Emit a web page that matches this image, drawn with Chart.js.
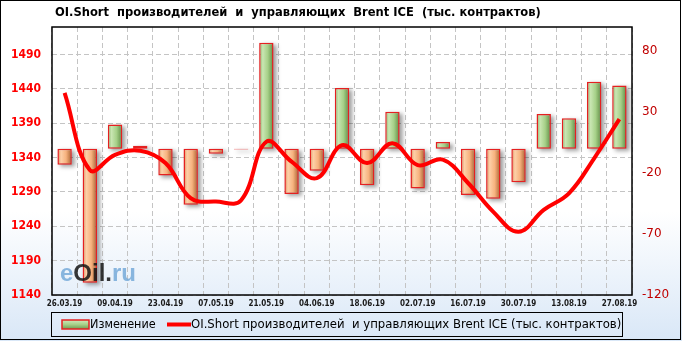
<!DOCTYPE html>
<html>
<head>
<meta charset="utf-8">
<script src="https://cdn.jsdelivr.net/npm/chart.js@4/dist/chart.umd.min.js"></script>
<style>
  html, body { margin: 0; padding: 0; background: #fff; }
</style>
</head>
<body>
<canvas id="grafico" width="682" height="341"></canvas>
<script>
// dados semanais
const datas = ['26.03.19', '02.04.19', '09.04.19', '16.04.19', '23.04.19', '30.04.19', '07.05.19',
  '14.05.19', '21.05.19', '28.05.19', '04.06.19', '11.06.19', '18.06.19', '25.06.19', '02.07.19',
  '09.07.19', '16.07.19', '23.07.19', '30.07.19', '06.08.19', '13.08.19', '20.08.19', '27.08.19'];
const izmenenie = [-13, -110, 20, 2.5, -22, -46, -4, -0.5, 87, -37, -18, 50, -30, 30.5, -32.5,
  5.5, -38, -41, -27.5, 28.5, 25, 55, 52];
const oiShort = [1434, 1322, 1344, 1350, 1332, 1281, 1276, 1278, 1363, 1334, 1310, 1358, 1332,
  1361, 1329, 1337, 1303, 1261, 1232, 1264, 1288, 1339, 1396];
const ticksEsquerda = [1140, 1190, 1240, 1290, 1340, 1390, 1440, 1490];
const ticksDireita = [-120, -70, -20, 30, 80];

const titulo = 'OI.Short  производителей  и  управляющих  Brent ICE  (тыс. контрактов)';
const legendaBarra = 'Изменение';
const legendaLinha = 'OI.Short производителей  и управляющих Brent ICE (тыс. контрактов)';

const fonteCond = "'DejaVu Sans Condensed', 'DejaVu Sans', sans-serif";

// gradiente dos "tijolos"
function corBarra(c) {
  const chart = c.chart;
  const area = chart.chartArea;
  const positivo = c.raw >= 0;
  if (!area || c.type !== 'data') return positivo ? '#a8d08d' : '#f7b98b';
  const x = chart.scales.x.getPixelForValue(c.dataIndex);
  const w = (area.right - area.left) / datas.length * 0.57;
  const g = chart.ctx.createLinearGradient(x - w / 2, 0, x + w / 2, 0);
  if (positivo) {
    g.addColorStop(0, '#86b266');
    g.addColorStop(0.25, '#c9e6b2');
    g.addColorStop(0.6, '#a6d088');
    g.addColorStop(1, '#5d8a43');
  } else {
    g.addColorStop(0, '#d98a55');
    g.addColorStop(0.25, '#fdd0a8');
    g.addColorStop(0.6, '#f7b27e');
    g.addColorStop(1, '#a6602f');
  }
  return g;
}

const pluginFundo = {
  id: 'fundo',
  beforeDraw(chart) {
    const ctx = chart.ctx;
    const g = ctx.createLinearGradient(0, 0, 0, chart.height);
    g.addColorStop(0, '#ffffff');
    g.addColorStop(0.62, '#ffffff');
    g.addColorStop(1, '#d9e7f7');
    ctx.save();
    ctx.fillStyle = g;
    ctx.fillRect(0, 0, chart.width, chart.height);
    ctx.restore();
  },
  beforeDatasetsDraw(chart) {
    // sombra das barras
    const ctx = chart.ctx;
    const meta = chart.getDatasetMeta(1);
    ctx.save();
    ctx.filter = 'blur(2px)';
    ctx.fillStyle = 'rgba(0,0,0,0.38)';
    meta.data.forEach(function(b) {
      const top = Math.min(b.y, b.base);
      const h = Math.abs(b.base - b.y);
      ctx.fillRect(b.x - b.width / 2 + 3, top + 2, b.width, Math.max(h, 1));
    });
    ctx.restore();
  },
  afterDatasetsDraw(chart) {
    const ctx = chart.ctx;
    const a = chart.chartArea;
    // marca d'agua
    ctx.save();
    ctx.font = "bold 24px 'Liberation Sans', sans-serif";
    ctx.textBaseline = 'alphabetic';
    let x = 60;
    const partes = [['e', 'rgba(110,165,215,0.8)'], ['Oil', 'rgba(20,20,20,0.85)'],
      ['.', 'rgba(20,20,20,0.85)'], ['ru', 'rgba(110,165,215,0.8)']];
    partes.forEach(function(p) {
      ctx.fillStyle = p[1];
      ctx.fillText(p[0], x, 281);
      x += ctx.measureText(p[0]).width;
    });
    ctx.restore();
    // moldura
    ctx.save();
    ctx.strokeStyle = '#000';
    ctx.lineWidth = 1.5;
    ctx.strokeRect(a.left, a.top, a.right - a.left, a.bottom - a.top);
    ctx.restore();
  },
  afterDraw(chart) {
    const ctx = chart.ctx;
    ctx.save();
    // titulo
    ctx.fillStyle = '#000';
    ctx.font = 'bold 12.8px ' + fonteCond;
    ctx.textBaseline = 'middle';
    ctx.fillText(titulo, 55, 13);
    // legenda
    ctx.strokeStyle = '#000';
    ctx.lineWidth = 1;
    ctx.strokeRect(51.5, 312.5, 571, 24);
    const g = ctx.createLinearGradient(0, 320, 0, 329);
    g.addColorStop(0, '#cfe8bb');
    g.addColorStop(0.5, '#a6d088');
    g.addColorStop(1, '#6f9a52');
    ctx.fillStyle = g;
    ctx.fillRect(62, 320, 27, 9);
    ctx.strokeStyle = '#e52020';
    ctx.lineWidth = 1.5;
    ctx.strokeRect(62, 320, 27, 9);
    ctx.font = '12.5px ' + fonteCond;
    ctx.fillStyle = '#000';
    ctx.fillText(legendaBarra, 90, 325);
    ctx.strokeStyle = '#ff0000';
    ctx.lineWidth = 4;
    ctx.beginPath();
    ctx.moveTo(167, 324.5);
    ctx.lineTo(191, 324.5);
    ctx.stroke();
    ctx.font = '13px ' + fonteCond;
    ctx.fillText(legendaLinha, 191, 325);
    // borda externa
    ctx.lineWidth = 1;
    ctx.strokeStyle = '#000';
    ctx.strokeRect(0.5, 0.5, 680, 339);
    ctx.restore();
  }
};

new Chart(document.getElementById('grafico'), {
  type: 'bar',
  data: {
    labels: datas,
    datasets: [{
      type: 'line',
      label: legendaLinha,
      data: oiShort,
      yAxisID: 'y',
      borderColor: '#ff0000',
      borderWidth: 4,
      pointRadius: 0,
      tension: 0.4,
      order: 0
    }, {
      type: 'bar',
      label: legendaBarra,
      data: izmenenie,
      yAxisID: 'y1',
      backgroundColor: corBarra,
      borderColor: '#e52020',
      borderWidth: 1.5,
      borderSkipped: false,
      barPercentage: 0.57,
      categoryPercentage: 1,
      order: 1
    }]
  },
  options: {
    responsive: false,
    animation: false,
    layout: { padding: { top: 27, left: 0, right: 0, bottom: 0 } },
    plugins: {
      legend: { display: false },
      title: { display: false },
      tooltip: { enabled: false }
    },
    scales: {
      x: {
        offset: true,
        grid: { offset: true, color: '#c4c4c4', drawTicks: false },
        border: { display: false, dash: [5, 3] },
        ticks: {
          autoSkip: false,
          maxRotation: 0,
          padding: 4,
          color: '#1a1a1a',
          font: { family: fonteCond, size: 8, weight: 'bold' },
          callback: function(v, i) { return i % 2 === 0 ? datas[i] : ''; }
        },
        afterFit: function(s) { s.height = 46; }
      },
      y: {
        position: 'left',
        min: 1140,
        max: 1530,
        afterBuildTicks: function(s) { s.ticks = ticksEsquerda.map(v => ({ value: v })); },
        grid: { color: '#c4c4c4', drawTicks: false },
        border: { display: false, dash: [5, 3] },
        ticks: {
          padding: 11,
          color: '#ff0000',
          font: { family: fonteCond, size: 12, weight: 'bold' },
          callback: function(v) { return String(v); }
        },
        afterFit: function(s) { s.width = 52; }
      },
      y1: {
        position: 'right',
        min: -120,
        max: 100,
        afterBuildTicks: function(s) { s.ticks = ticksDireita.map(v => ({ value: v })); },
        grid: { display: false, drawTicks: false },
        border: { display: false },
        ticks: {
          padding: 10,
          color: '#c00000',
          font: { family: "'DejaVu Sans', sans-serif", size: 12 },
          callback: function(v) { return String(v); }
        },
        afterFit: function(s) { s.width = 50; }
      }
    }
  },
  plugins: [pluginFundo]
});
</script>
</body>
</html>
